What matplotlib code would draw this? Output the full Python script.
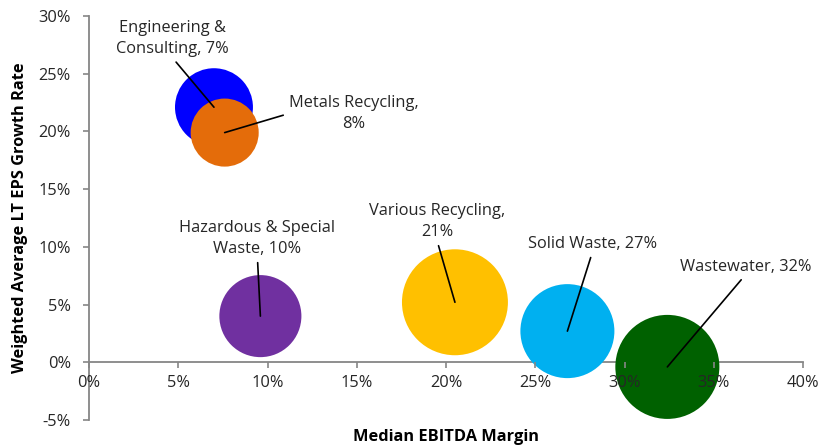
import matplotlib.pyplot as plt
from matplotlib.ticker import FuncFormatter

plt.rcParams['font.family'] = ['Open Sans', 'DejaVu Sans']

segments = ['Engineering &\nConsulting, 7%', 'Metals Recycling,\n8%', 'Hazardous & Special\nWaste, 10%',
            'Various Recycling,\n21%', 'Solid Waste, 27%', 'Wastewater, 32%']
ebitda_margin = [7.0, 7.6, 9.6, 20.5, 26.8, 32.4]
eps_growth = [22.1, 19.9, 4.0, 5.2, 2.7, -0.4]
bubble_size = [3.15, 2.40, 3.49, 5.82, 4.58, 5.61]
colors = ['#0000FF', '#E46C0A', '#7030A0', '#FFC000', '#00B0F0', '#006100']

# label offsets in pixels from bubble centre, and anchor on text
label_offsets = [(-42, 50), (64, 19), (-3, 59), (-18, 62), (25, 79), (78, 92)]
label_anchor = [('center', 'bottom', (0.5, 0)), ('left', 'center', (0, 0.5)),
                ('center', 'bottom', (0.5, 0)), ('center', 'bottom', (0.5, 0)),
                ('center', 'bottom', (0.5, 0)), ('center', 'bottom', (0.5, 0))]

fig = plt.figure(figsize=(8.22, 4.46), dpi=100)
ax = fig.add_axes([0.1083, 0.0583, 0.8686, 0.9058])

ax.scatter(ebitda_margin, eps_growth, s=[b * 1000 for b in bubble_size], c=colors,
           edgecolors='none', zorder=3)

for i, name in enumerate(segments):
    ha, va, rp = label_anchor[i]
    ax.annotate(name, xy=(ebitda_margin[i], eps_growth[i]), xytext=label_offsets[i],
                textcoords='offset pixels', ha=ha, va=va, multialignment='center',
                fontsize=11.8, color='#262626', zorder=5, linespacing=1.45,
                arrowprops=dict(arrowstyle='-', color='black', lw=1.2, relpos=rp,
                                shrinkA=2, shrinkB=0))

ax.set_xlim(0, 40)
ax.set_ylim(-5, 30)
ax.set_xticks(range(0, 41, 5))
ax.set_yticks(range(-5, 31, 5))
pct = FuncFormatter(lambda v, p: f'{v:.0f}%')
ax.xaxis.set_major_formatter(pct)
ax.yaxis.set_major_formatter(pct)

ax.spines['top'].set_visible(False)
ax.spines['right'].set_visible(False)
ax.spines['bottom'].set_position(('data', 0))
for sp in ['left', 'bottom']:
    ax.spines[sp].set_color('#868686')
    ax.spines[sp].set_linewidth(1.3)
    ax.spines[sp].set_zorder(2)
ax.tick_params(axis='both', direction='out', length=4, width=1.2, color='#868686',
               labelsize=11.8, labelcolor='#262626', pad=5)
ax.tick_params(axis='y', pad=9)
ax.xaxis.set_zorder(4)

ax.set_xlabel('Median EBITDA Margin', fontsize=11.8, fontweight='bold')
ax.xaxis.set_label_coords(0.5, -0.022)
ax.set_ylabel('Weighted Average LT EPS Growth Rate', fontsize=11.8, fontweight='bold')
ax.yaxis.set_label_coords(-0.085, 0.5)

fig.savefig('out.png', dpi=100)
